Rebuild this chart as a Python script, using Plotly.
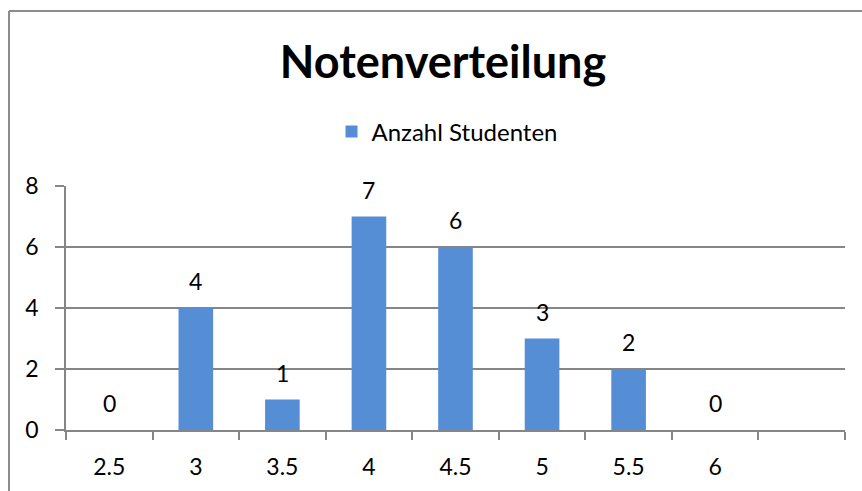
import plotly.graph_objects as go

grades = ["2.5", "3", "3.5", "4", "4.5", "5", "5.5", "6"]
counts = [0, 4, 1, 7, 6, 3, 2, 0]
series_name = "Anzahl Studenten"
title_text = "Notenverteilung"
y_ticks = [0, 2, 4, 6, 8]

W, H = 862, 491
L, R, T, B = 66, 17, 186, 61
pw, ph = W - L - R, H - T - B

def px_x(x):
    return (x - L) / pw

def px_y(y):
    return (H - B - y) / ph

FONT = "Lato"
GRID = "#868686"

fig = go.Figure()
fig.add_trace(go.Bar(
    x=grades, y=counts, name=series_name,
    marker=dict(color="#558ed5", line=dict(width=0)),
    width=0.4, showlegend=True,
))

for i, c in enumerate(counts):
    fig.add_annotation(x=i, y=c, text=str(c), showarrow=False,
                       yshift=27, yanchor="middle",
                       font=dict(family=FONT, size=23, color="#000"))

# chart border (left and top visible)
bx = px_x(9)
fig.add_shape(type="line", xref="paper", yref="paper",
              x0=bx, x1=bx, y0=px_y(500), y1=px_y(11),
              line=dict(color="#8c8c8c", width=2))
fig.add_shape(type="line", xref="paper", yref="paper",
              x0=bx, x1=px_x(880), y0=px_y(11), y1=px_y(11),
              line=dict(color="#8c8c8c", width=2))

fig.update_layout(
    width=W, height=H,
    margin=dict(l=L, r=R, t=T, b=B),
    paper_bgcolor="white", plot_bgcolor="white",
    title=dict(text=title_text, x=0.514, xanchor="center",
               y=1 - 62 / H, yanchor="middle", yref="container",
               font=dict(family=FONT, size=45, color="#000", weight="bold")),
    legend=dict(orientation="h", x=px_x(447), xanchor="center",
                y=px_y(132), yanchor="middle",
                font=dict(family=FONT, size=24, color="#000"),
                itemwidth=30, bgcolor="rgba(0,0,0,0)"),
    bargap=0.6,
    xaxis=dict(
        type="category", categoryorder="array",
        categoryarray=grades + [" "], range=[-0.5, 8.5],
        tickson="boundaries", ticks="outside", ticklen=8,
        tickcolor=GRID, tickwidth=1.5, showline=True, linecolor=GRID, linewidth=1.5,
        showgrid=False, fixedrange=True,
        tickfont=dict(family=FONT, size=23, color="#000"),
        ticklabelstandoff=16,
    ),
    yaxis=dict(
        range=[0, 8], tickvals=y_ticks, ticks="outside", ticklen=9,
        tickcolor=GRID, tickwidth=1.5, showline=True, linecolor=GRID, linewidth=1.5,
        showgrid=True, gridcolor=GRID, gridwidth=1.5, zeroline=False,
        tickfont=dict(family=FONT, size=23, color="#000"),
        ticklabelstandoff=12,
    ),
)

fig.write_html("out.html")
